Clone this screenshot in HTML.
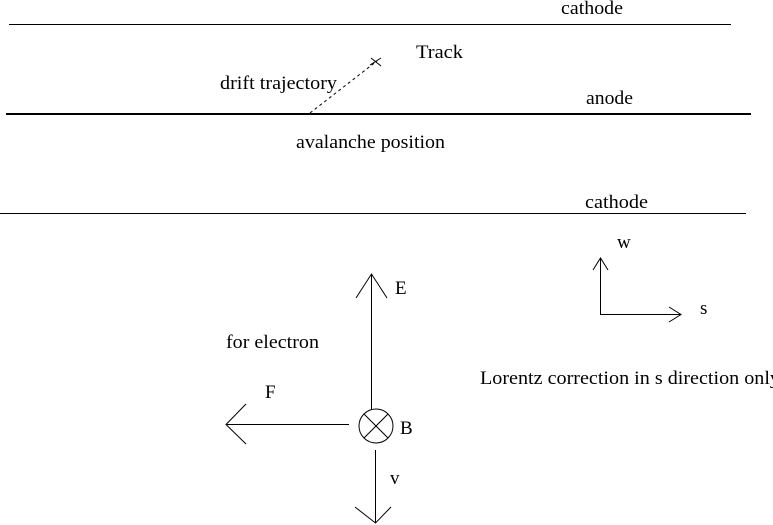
<!DOCTYPE html>
<html><head><style>
body{margin:0;background:#fff;width:773px;height:525px;overflow:hidden}
svg{display:block}
text{font-family:"Liberation Serif",serif;font-size:19px;fill:#000}
</style></head><body>
<svg width="773" height="525" viewBox="0 0 773 525" xmlns="http://www.w3.org/2000/svg">
<g stroke="#000" fill="none" stroke-width="1">
<line x1="9" y1="24.5" x2="731" y2="24.5"/>
<line x1="6" y1="114" x2="751" y2="114" stroke-width="2"/>
<line x1="0" y1="213.5" x2="746" y2="213.5"/>
<line x1="310" y1="113" x2="377" y2="61" stroke-dasharray="3,3"/>
<line x1="371" y1="58" x2="381" y2="66"/><line x1="370" y1="65" x2="381" y2="58"/>
<line x1="371.5" y1="410" x2="371.5" y2="274"/>
<polyline points="356,298 371.5,274 387,298"/>
<circle cx="376" cy="426" r="17"/>
<line x1="364" y1="414" x2="388" y2="438"/><line x1="388" y1="414" x2="364" y2="438"/>
<line x1="349" y1="424.5" x2="226" y2="424.5"/>
<polyline points="246,404 226,424.5 246,444"/>
<line x1="375.5" y1="450" x2="375.5" y2="523"/>
<polyline points="355,507 375.5,523 391,507"/>
<line x1="600.5" y1="314" x2="600.5" y2="258"/>
<polyline points="593,270 600.5,258 608,270"/>
<line x1="600" y1="314.5" x2="681" y2="314.5"/>
<polyline points="669,307 681,314.5 669,322"/>
</g>
<text x="561" y="14" textLength="62" lengthAdjust="spacingAndGlyphs">cathode</text>
<text x="416" y="58" textLength="47" lengthAdjust="spacingAndGlyphs">Track</text>
<text x="220" y="89" textLength="117" lengthAdjust="spacingAndGlyphs">drift trajectory</text>
<text x="586" y="104" textLength="47" lengthAdjust="spacingAndGlyphs">anode</text>
<text x="296" y="148" textLength="149" lengthAdjust="spacingAndGlyphs">avalanche position</text>
<text x="585" y="208" textLength="63" lengthAdjust="spacingAndGlyphs">cathode</text>
<text x="617" y="248">w</text>
<text x="700" y="314">s</text>
<text x="395" y="294">E</text>
<text x="226" y="348" textLength="93" lengthAdjust="spacingAndGlyphs">for electron</text>
<text x="480" y="384" textLength="300" lengthAdjust="spacingAndGlyphs">Lorentz correction in s direction only</text>
<text x="265" y="398">F</text>
<text x="400" y="434">B</text>
<text x="390" y="484">v</text>
</svg>
</body></html>
